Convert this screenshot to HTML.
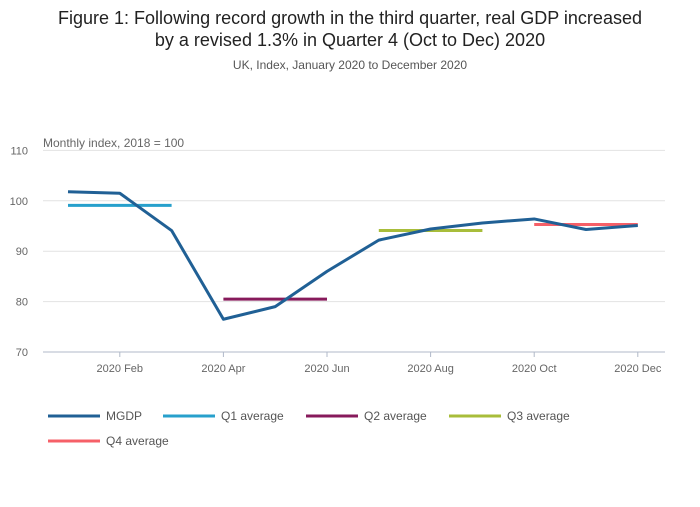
<!DOCTYPE html>
<html><head><meta charset="utf-8"><style>
body{margin:0;background:#fff;font-family:"Liberation Sans",sans-serif;}
</style></head><body>
<svg width="700" height="502" xmlns="http://www.w3.org/2000/svg" font-family="Liberation Sans, sans-serif">
<text x="350" y="24" text-anchor="middle" font-size="18" fill="#222">Figure 1: Following record growth in the third quarter, real GDP increased</text>
<text x="350" y="46" text-anchor="middle" font-size="18" fill="#222">by a revised 1.3% in Quarter 4 (Oct to Dec) 2020</text>
<text x="350" y="69" text-anchor="middle" font-size="12" fill="#555">UK, Index, January 2020 to December 2020</text>
<text x="43" y="147" font-size="12" fill="#666">Monthly index, 2018 = 100</text>
<g id="grid"></g><g id="series"></g>
<g id="legend" font-size="12" fill="#555"></g>
</svg>
<script>
const months=['Jan','Feb','Mar','Apr','May','Jun','Jul','Aug','Sep','Oct','Nov','Dec'];
const mgdp=[101.8,101.5,94.1,76.5,79.0,86.0,92.2,94.4,95.6,96.4,94.3,95.1];
const yTicks=[70,80,90,100,110];
const xTickLabels=['2020 Feb','2020 Apr','2020 Jun','2020 Aug','2020 Oct','2020 Dec'];
const xTickIdx=[1,3,5,7,9,11];
const quarterAvg=[99.1,80.5,94.1,95.3];
const quarterNames=['Q1 average','Q2 average','Q3 average','Q4 average'];
const quarterColors=['#27a0cc','#871a5b','#a8bd3a','#f66068'];
const NS='http://www.w3.org/2000/svg';
const x=i=>68+i*51.8;
const y=v=>352-(v-70)*5.04;
function mk(tag,attrs,parent,text){const e=document.createElementNS(NS,tag);for(const k in attrs)e.setAttribute(k,attrs[k]);if(text!==undefined)e.textContent=text;parent.appendChild(e);return e;}
const grid=document.getElementById('grid'),ser=document.getElementById('series'),leg=document.getElementById('legend');
yTicks.forEach(t=>{
  const l=mk('line',{x1:43,x2:665,y1:y(t),y2:y(t),stroke:t===70?'#b0b8c8':'#e2e2e2','stroke-width':1},grid);
  
  
  const tx=mk('text',{x:28,y:y(t)+4,'font-size':11,fill:'#666','text-anchor':'end'},grid,String(t));
  
  
});
xTickIdx.forEach((idx,k)=>{
  const l=mk('line',{x1:x(idx),x2:x(idx),y1:352,y2:357,stroke:'#b0b8c8'},grid);
  
  
  const tx=mk('text',{x:x(idx),y:372,'font-size':11,fill:'#666','text-anchor':'middle'},grid,xTickLabels[k]);
  
  
});
quarterAvg.forEach((v,q)=>{
  const l=mk('line',{x1:x(q*3),x2:x(q*3+2),y1:y(v),y2:y(v),stroke:quarterColors[q],'stroke-width':3},ser);
  
  
});
const p=mk('polyline',{points:mgdp.map((v,i)=>x(i)+','+y(v)).join(' '),fill:'none',stroke:'#206095','stroke-width':3,'stroke-linejoin':'round'},ser);


const items=[['MGDP','#206095']].concat(quarterNames.map((n,i)=>[n,quarterColors[i]]));
const pos=[[48,416],[163,416],[306,416],[449,416],[48,441]];
items.forEach((it,i)=>{
  const g=mk('g',{},leg);
  
  
  mk('line',{x1:pos[i][0],x2:pos[i][0]+52,y1:pos[i][1],y2:pos[i][1],stroke:it[1],'stroke-width':3},g);
  mk('text',{x:pos[i][0]+58,y:pos[i][1]+4},g,it[0]);
});
</script>
</body></html>
